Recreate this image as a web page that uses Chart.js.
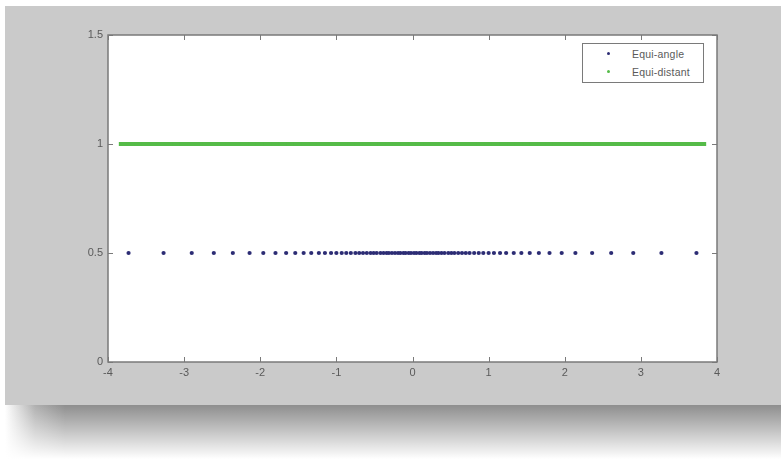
<!DOCTYPE html>
<html>
<head>
<meta charset="utf-8">
<script src="https://cdn.jsdelivr.net/npm/chart.js@4.4.1/dist/chart.umd.min.js"></script>
<style>
  html, body { margin: 0; padding: 0; background: #ffffff; width: 781px; height: 459px; overflow: hidden; }
  #panel { position: absolute; left: 5px; top: 6px; width: 776px; height: 399px; background: #cacaca; }
  #shadow { position: absolute; left: 5px; top: 405px; width: 776px; height: 54px;
    background: linear-gradient(to bottom, rgba(255,255,255,0) 0%, rgba(255,255,255,0.6) 60%, #ffffff 100%),
                linear-gradient(to right, #ffffff 0px, #b0b0b0 30px, #8e8e8e 60px, #8e8e8e 100%); }
  #wrap { position: absolute; left: 0; top: 0; width: 781px; height: 459px; }
  #legend { position: absolute; left: 582px; top: 43px; width: 120px; height: 38px; background: #ffffff;
    border: 1px solid #7a7a7a; font-family: "Liberation Sans", Arial, sans-serif; font-size: 10.5px; color: #5a5a5a; }
  .entry { position: absolute; left: 0; height: 12px; line-height: 12px; white-space: nowrap; }
  .dot { position: absolute; left: 24px; top: 4px; width: 3px; height: 3px; border-radius: 50%; }
  .txt { position: absolute; left: 49px; top: 0; letter-spacing: 0.2px; }
</style>
</head>
<body>
<div id="panel"></div>
<div id="shadow"></div>
<div id="wrap"><canvas id="c" width="781" height="459"></canvas></div>
<div id="legend"></div>
<script>
// ---- data ----
const seriesNames = ["Equi-angle", "Equi-distant"];
const equiAngleLevel = 0.5;
const equiDistantLevel = 1;
const equiAngleX = [
  -3.73, -3.27, -2.90, -2.61, -2.36, -2.14, -1.96, -1.80, -1.66, -1.54,
  -1.43, -1.33, -1.23, -1.15, -1.07, -1.00, -0.93, -0.87, -0.81, -0.75,
  -0.70, -0.65, -0.60, -0.55, -0.51, -0.47, -0.42, -0.38, -0.34, -0.31,
  -0.27, -0.23, -0.19, -0.16, -0.12, -0.09, -0.05, -0.02,
  0.02, 0.05, 0.09, 0.12, 0.16, 0.19, 0.23, 0.27, 0.31, 0.34,
  0.38, 0.42, 0.47, 0.51, 0.55, 0.60, 0.65, 0.70, 0.75, 0.81,
  0.87, 0.93, 1.00, 1.07, 1.15, 1.23, 1.33, 1.43, 1.54, 1.66,
  1.80, 1.96, 2.14, 2.36, 2.61, 2.90, 3.27, 3.73
];
const equiDistantX = [
  -3.8, -3.7, -3.6, -3.5, -3.4, -3.3, -3.2, -3.1, -3.0, -2.9,
  -2.8, -2.7, -2.6, -2.5, -2.4, -2.3, -2.2, -2.1, -2.0, -1.9,
  -1.8, -1.7, -1.6, -1.5, -1.4, -1.3, -1.2, -1.1, -1.0, -0.9,
  -0.8, -0.7, -0.6, -0.5, -0.4, -0.3, -0.2, -0.1, 0.0, 0.1,
  0.2, 0.3, 0.4, 0.5, 0.6, 0.7, 0.8, 0.9, 1.0, 1.1,
  1.2, 1.3, 1.4, 1.5, 1.6, 1.7, 1.8, 1.9, 2.0, 2.1,
  2.2, 2.3, 2.4, 2.5, 2.6, 2.7, 2.8, 2.9, 3.0, 3.1,
  3.2, 3.3, 3.4, 3.5, 3.6, 3.7, 3.8
];
const xTickLabels = [-4, -3, -2, -1, 0, 1, 2, 3, 4];
const yTickLabels = [0, 0.5, 1, 1.5];

// ---- styles ----
const blueColor = '#2c2c74';
const greenColor = '#55bb48';
const axisColor = '#7a7a7a';
const labelColor = '#5a5a5a';

const frameAndTicks = {
  id: 'frameAndTicks',
  afterDatasetsDraw(chart) {
    const { ctx, chartArea: a, scales } = chart;
    ctx.save();
    ctx.strokeStyle = axisColor;
    ctx.lineWidth = 1;
    const L = 5;
    ctx.beginPath();
    scales.x.ticks.forEach(t => {
      const px = Math.round(scales.x.getPixelForValue(t.value)) + 0.5;
      ctx.moveTo(px, a.bottom); ctx.lineTo(px, a.bottom - L);
      ctx.moveTo(px, a.top); ctx.lineTo(px, a.top + L);
    });
    scales.y.ticks.forEach(t => {
      const py = Math.round(scales.y.getPixelForValue(t.value)) + 0.5;
      ctx.moveTo(a.left, py); ctx.lineTo(a.left + L, py);
      ctx.moveTo(a.right, py); ctx.lineTo(a.right - L, py);
    });
    ctx.stroke();
    ctx.lineWidth = 1.5;
    ctx.strokeRect(a.left, a.top, a.right - a.left, a.bottom - a.top);
    ctx.restore();
  }
};

const whiteArea = {
  id: 'whiteArea',
  beforeDraw(chart) {
    const { ctx, chartArea: a } = chart;
    ctx.save();
    ctx.fillStyle = '#ffffff';
    ctx.fillRect(a.left, a.top, a.right - a.left, a.bottom - a.top);
    ctx.restore();
  }
};

const chart = new Chart(document.getElementById('c'), {
  type: 'scatter',
  data: {
    datasets: [
      {
        label: seriesNames[0],
        data: equiAngleX.map(x => ({ x: x, y: equiAngleLevel })),
        backgroundColor: blueColor,
        borderColor: blueColor,
        pointRadius: 2.1,
        pointBorderWidth: 0,
        pointHoverRadius: 2.1
      },
      {
        label: seriesNames[1],
        data: equiDistantX.map(x => ({ x: x, y: equiDistantLevel })),
        backgroundColor: greenColor,
        borderColor: greenColor,
        pointStyle: 'line',
        pointRadius: 4.4,
        pointBorderWidth: 4,
        pointHoverRadius: 4.4
      }
    ]
  },
  options: {
    responsive: false,
    animation: false,
    devicePixelRatio: 1,
    events: [],
    layout: { padding: { top: 35, right: 64, bottom: 57, left: 0 } },
    plugins: { legend: { display: false }, tooltip: { enabled: false } },
    scales: {
      x: {
        type: 'linear',
        min: xTickLabels[0],
        max: xTickLabels[xTickLabels.length - 1],
        afterBuildTicks: s => { s.ticks = xTickLabels.map(v => ({ value: v })); },
        afterFit: s => { s.height = 40; },
        grid: { display: false, drawTicks: false },
        border: { display: false },
        ticks: {
          padding: 4,
          color: labelColor,
          font: { family: '"Liberation Sans", Arial, sans-serif', size: 11 },
          callback: v => String(v)
        }
      },
      y: {
        type: 'linear',
        min: yTickLabels[0],
        max: yTickLabels[yTickLabels.length - 1],
        afterBuildTicks: s => { s.ticks = yTickLabels.map(v => ({ value: v })); },
        afterFit: s => { s.width = 108; },
        grid: { display: false, drawTicks: false },
        border: { display: false },
        ticks: {
          padding: 5,
          color: labelColor,
          font: { family: '"Liberation Sans", Arial, sans-serif', size: 11 },
          callback: v => String(v)
        }
      }
    }
  },
  plugins: [whiteArea, frameAndTicks]
});

// HTML legend built from the datasets
const legend = document.getElementById('legend');
chart.data.datasets.forEach((ds, i) => {
  const e = document.createElement('div');
  e.className = 'entry';
  e.style.top = (4 + i * 18) + 'px';
  e.style.width = '100%';
  const d = document.createElement('span');
  d.className = 'dot';
  d.style.background = ds.backgroundColor;
  const t = document.createElement('span');
  t.className = 'txt';
  t.textContent = ds.label;
  e.appendChild(d); e.appendChild(t);
  legend.appendChild(e);
});
</script>
</body>
</html>
